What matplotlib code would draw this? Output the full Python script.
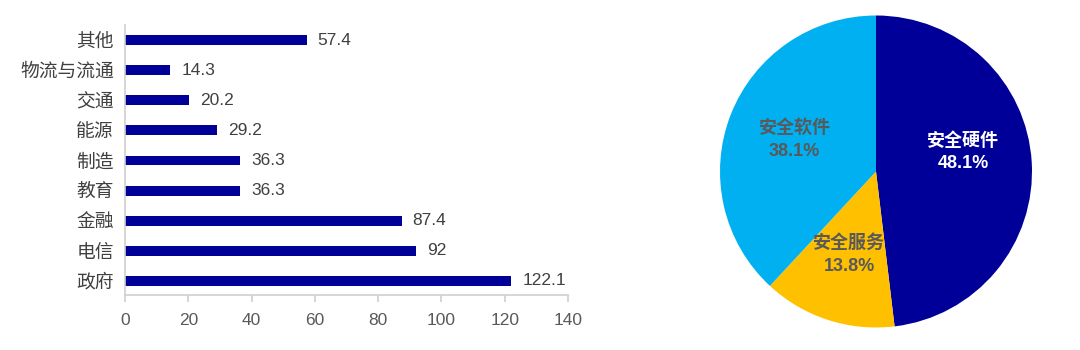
import matplotlib
matplotlib.use("Agg")
import matplotlib.pyplot as plt

plt.rcParams['font.family'] = ['Liberation Sans', 'Noto Sans CJK SC']

# bar chart data (top to bottom as shown)
industries = ['其他', '物流与流通', '交通', '能源', '制造', '教育', '金融', '电信', '政府']
values = [57.4, 14.3, 20.2, 29.2, 36.3, 36.3, 87.4, 92, 122.1]
x_ticks = [0, 20, 40, 60, 80, 100, 120, 140]

# pie data
segments = ['安全硬件', '安全服务', '安全软件']
shares = [48.1, 13.8, 38.1]
pie_colors = ['#000099', '#FFC000', '#00B0F0']
label_colors = ['white', '#595959', '#595959']
label_lift = [0.09, 0.0, 0.0]  # small vertical nudge of labels, in pie radii

fig = plt.figure(figsize=(10.8, 3.5), dpi=100)

# --- horizontal bar chart ---
ax = fig.add_axes([125 / 1080, 1 - 295 / 350, 443 / 1080, 270 / 350])
ypos = list(range(len(industries)))[::-1]
ax.barh(ypos, values, height=0.33, color='#000099')
for y, v in zip(ypos, values):
    ax.annotate(f'{v:g}', (v, y), xytext=(8, 0), textcoords='offset points',
                va='center', ha='left', fontsize=12.5, color='#404040')
ax.set_yticks(ypos)
ax.set_yticklabels(industries, fontsize=13.5, color='#404040')
ax.set_xticks(x_ticks)
ax.set_xticklabels([str(t) for t in x_ticks], fontsize=12.5, color='#595959')
ax.set_xlim(0, 140)
ax.set_ylim(-0.465, 8.5)
for s in ['top', 'right']:
    ax.spines[s].set_visible(False)
for s in ['left', 'bottom']:
    ax.spines[s].set_color('#D0D0D0')
    ax.spines[s].set_linewidth(1.2)
ax.tick_params(axis='y', length=0, pad=8)
ax.tick_params(axis='x', length=5, width=1.2, color='#D0D0D0', pad=8)

# --- pie chart ---
pax = fig.add_axes([(876 - 156) / 1080, 1 - (171.5 + 156) / 350, 312 / 1080, 312 / 350])
wedges, texts, autotexts = pax.pie(
    shares, colors=pie_colors, startangle=90, counterclock=False,
    autopct=lambda p: '', pctdistance=0.56,
    wedgeprops=dict(linewidth=0))
for t, name, val, c, lift in zip(autotexts, segments, shares, label_colors, label_lift):
    t.set_text(f'{name}\n{val:.1f}%')
    t.set_color(c)
    t.set_fontsize(13)
    t.set_fontweight('bold')
    t.set_linespacing(1.45)
    px, py = t.get_position()
    t.set_position((px, py + lift))
pax.set_xlim(-1, 1)
pax.set_ylim(-1, 1)
pax.set_aspect('equal')

fig.savefig('out.png', dpi=100)
